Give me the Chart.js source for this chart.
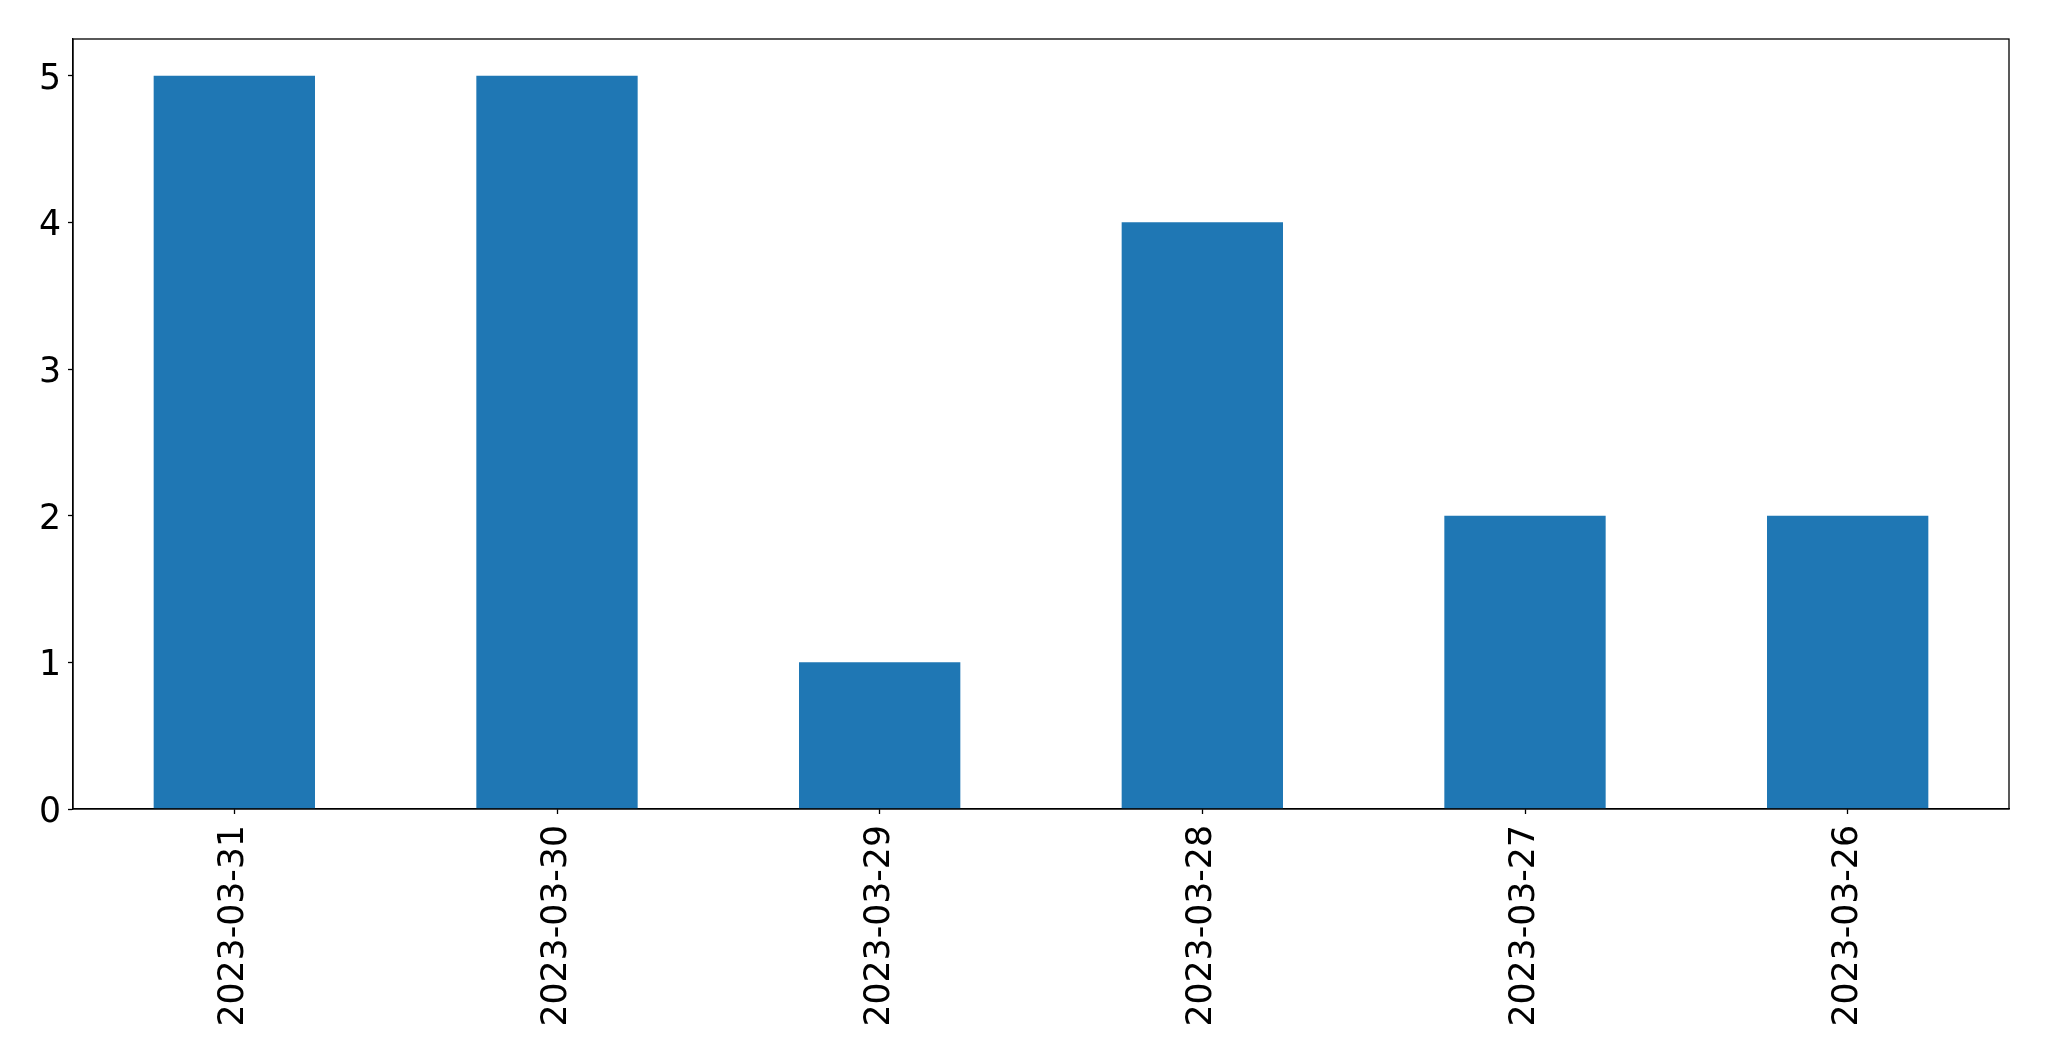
<!DOCTYPE html>
<html>
<head>
<meta charset="utf-8">
<script src="https://cdn.jsdelivr.net/npm/chart.js@4"></script>
<style>
html,body{margin:0;padding:0;background:#fff;}
#wrap{width:2049px;height:1061px;}
</style>
</head>
<body>
<div id="wrap"><canvas id="c" width="2049" height="1061"></canvas></div>
<script>
const categories = ["2023-03-31","2023-03-30","2023-03-29","2023-03-28","2023-03-27","2023-03-26"];
const values = [5, 5, 1, 4, 2, 2];
const yTicks = [0, 1, 2, 3, 4, 5];

const frame = {
  id: 'frame',
  afterDraw(chart) {
    const a = chart.chartArea, ctx = chart.ctx;
    ctx.save();
    ctx.strokeStyle = '#000';
    ctx.lineWidth = 1.3;
    ctx.strokeRect(a.left, a.top, a.right - a.left, a.bottom - a.top);
    ctx.restore();
  }
};

new Chart(document.getElementById('c'), {
  type: 'bar',
  data: {
    labels: categories,
    datasets: [{ data: values, backgroundColor: '#1f77b4', borderWidth: 0,
      barPercentage: 0.5, categoryPercentage: 1.0 }]
  },
  options: {
    responsive: false,
    animation: false,
    devicePixelRatio: 1,
    plugins: { legend: { display: false }, tooltip: { enabled: false } },
    layout: { padding: { top: 39, right: 40, left: 0, bottom: 0 } },
    scales: {
      x: {
        offset: true,
        grid: { display: true, drawOnChartArea: false, drawTicks: true, tickLength: 5, tickWidth: 1.3, tickColor: '#000', offset: false },
        border: { display: true, color: '#000', width: 1.3 },
        ticks: { color: '#000', font: { family: 'DejaVu Sans', size: 34.7 }, minRotation: 90, maxRotation: 90, padding: 11, autoSkip: false },
        afterFit(s) { s.height = 252; }
      },
      y: {
        min: 0, max: 5.25,
        afterBuildTicks(s) { s.ticks = yTicks.map(v => ({ value: v })); },
        grid: { display: true, drawOnChartArea: false, drawTicks: true, tickLength: 5, tickWidth: 1.3, tickColor: '#000' },
        border: { display: true, color: '#000', width: 1.3 },
        ticks: { color: '#000', font: { family: 'DejaVu Sans', size: 34.7 }, padding: 7, labelOffset: 4 },
        afterFit(s) { s.width = 73; }
      }
    }
  },
  plugins: [frame]
});
</script>
</body>
</html>
